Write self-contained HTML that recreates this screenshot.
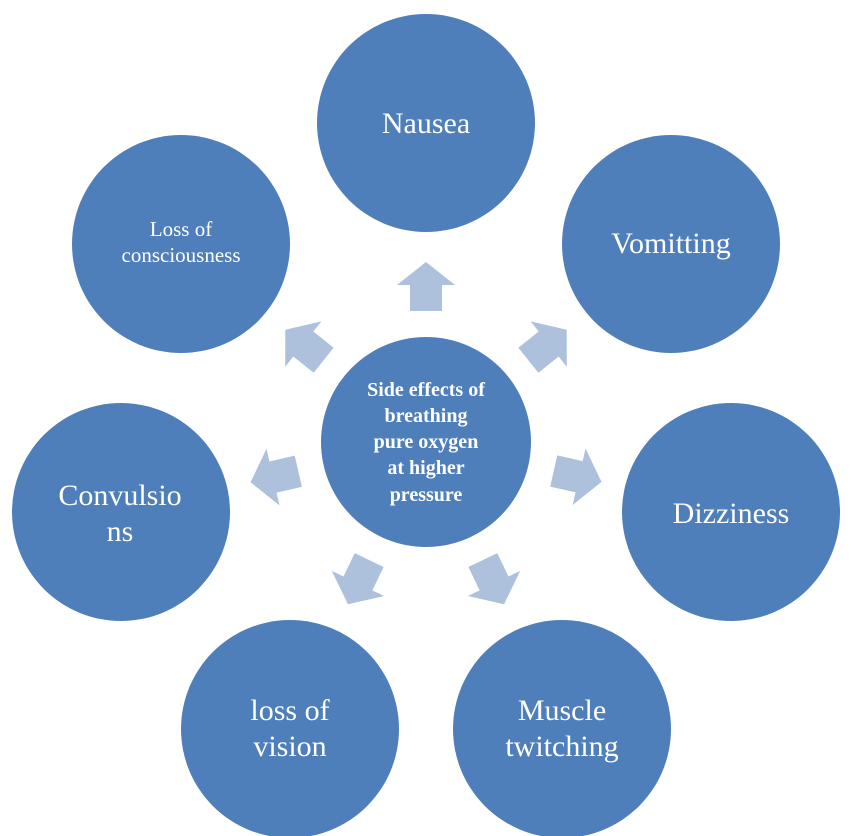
<!DOCTYPE html>
<html><head><meta charset="utf-8"><style>
html,body{margin:0;padding:0;background:#fff;}
svg{display:block;}
text{font-family:"Liberation Serif",serif;fill:#fff;text-anchor:middle;}
</style></head><body>
<svg width="851" height="836" viewBox="0 0 851 836" xmlns="http://www.w3.org/2000/svg">
<defs>
<polygon id="arr" points="0,-180 29,-157 16,-157 16,-131 -16,-131 -16,-157 -29,-157" fill="#adc0dc"/>
</defs>
<g transform="translate(426,442)">
<use href="#arr" transform="rotate(0)"/>
<use href="#arr" transform="rotate(51.4)"/>
<use href="#arr" transform="rotate(102.8)"/>
<use href="#arr" transform="rotate(154.3)"/>
<use href="#arr" transform="rotate(205.7)"/>
<use href="#arr" transform="rotate(257.1)"/>
<use href="#arr" transform="rotate(308.6)"/>
</g>
<g fill="#4f7fbb">
<circle cx="426" cy="123" r="109"/>
<circle cx="671" cy="244" r="109"/>
<circle cx="731" cy="512" r="109"/>
<circle cx="562" cy="729" r="109"/>
<circle cx="290" cy="729" r="109"/>
<circle cx="121" cy="512" r="109"/>
<circle cx="181" cy="244" r="109"/>
<circle cx="426" cy="442" r="105"/>
</g>
<text x="426" y="133" font-size="30">Nausea</text>
<text x="671" y="253" font-size="30">Vomitting</text>
<text x="731" y="523" font-size="30">Dizziness</text>
<text x="562" y="720" font-size="30">Muscle</text>
<text x="562" y="756" font-size="30">twitching</text>
<text x="290" y="720" font-size="30">loss of</text>
<text x="290" y="756" font-size="30">vision</text>
<text x="120" y="505" font-size="30">Convulsio</text>
<text x="120" y="541" font-size="30">ns</text>
<text x="181" y="236" font-size="21">Loss of</text>
<text x="181" y="262" font-size="21">consciousness</text>
<g font-size="20" font-weight="bold">
<text x="426" y="396">Side effects of</text>
<text x="426" y="422">breathing</text>
<text x="426" y="448">pure oxygen</text>
<text x="426" y="474">at higher</text>
<text x="426" y="501">pressure</text>
</g>
</svg>
</body></html>
